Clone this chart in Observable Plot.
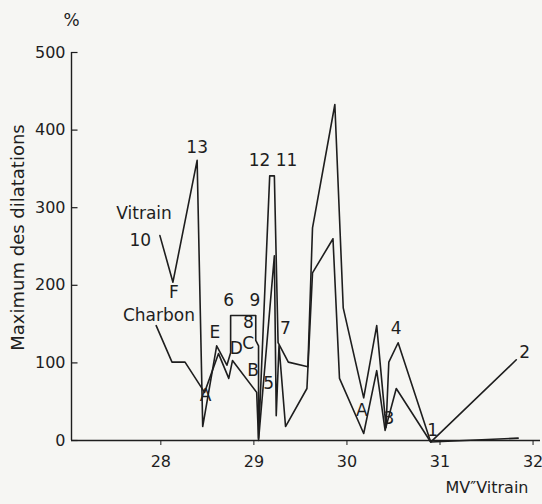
<!DOCTYPE html>
<html>
<head>
<meta charset="utf-8">
<script src="https://cdn.jsdelivr.net/npm/d3@7"></script>
<script src="https://cdn.jsdelivr.net/npm/@observablehq/plot@0.6"></script>
<style>
  html, body { margin: 0; padding: 0; background: #f6f6f3; }
  #chart { width: 542px; height: 504px; }
</style>
</head>
<body>
<div id="chart"></div>
<script>
// Vitrain series (MV vitrain, maximum des dilatations %)
const vitrainX = [27.99, 28.13, 28.39, 28.45, 28.60, 28.71, 28.75, 28.75, 29.02, 29.02, 29.05, 29.05, 29.17, 29.22, 29.26, 29.37, 29.58, 29.63, 29.87, 29.96, 30.18, 30.32, 30.42, 30.45, 30.55, 30.90, 31.82];
const vitrainY = [264, 204, 361, 18, 122, 97, 113, 161, 161, 129, 122, 3, 341, 341, 126, 101, 95, 274, 433, 171, 55, 148, 17, 101, 126, -2, 104];

// Charbon series
const charbonX = [27.95, 28.12, 28.26, 28.47, 28.62, 28.73, 28.77, 29.03, 29.05, 29.22, 29.24, 29.27, 29.34, 29.57, 29.63, 29.85, 29.92, 30.18, 30.32, 30.41, 30.53, 30.90, 31.84];
const charbonY = [148, 101, 101, 62, 112, 80, 103, 62, 0, 238, 32, 122, 18, 67, 216, 260, 80, 9, 90, 13, 67, -2, 3];

// Point annotations
const labelText = ["13", "12", "11", "Vitrain", "10", "F", "Charbon", "6", "9", "8", "E", "D", "C", "B", "7", "5", "A", "A", "4", "3", "1", "2"];
const labelX = [28.39, 29.06, 29.35, 27.82, 27.78, 28.14, 27.98, 28.73, 29.01, 28.94, 28.58, 28.81, 28.94, 28.99, 29.34, 29.16, 28.48, 30.16, 30.53, 30.45, 30.92, 31.91];
const labelY = [378, 361, 361, 293, 258, 191, 161, 180, 180, 152, 139, 119, 125, 90, 144, 73, 58, 39, 144, 28, 13, 113];

// Axis ticks
const xTicks = [28, 29, 30, 31, 32];
const yTicks = [0, 100, 200, 300, 400, 500];
const xDomain = [27.04, 32.08];
const yDomain = [0, 500];

const vitrain = vitrainX.map((x, i) => ({x, y: vitrainY[i]}));
const charbon = charbonX.map((x, i) => ({x, y: charbonY[i]}));
const labels = labelText.map((t, i) => ({t, x: labelX[i], y: labelY[i]}));

const ink = "#1e1e1e";

const chart = Plot.plot({
  width: 542,
  height: 504,
  marginLeft: 71,
  marginRight: 2,
  marginTop: 52,
  marginBottom: 64,
  x: {domain: xDomain},
  y: {domain: yDomain},
  style: {background: "#f6f6f3", fontFamily: "'DejaVu Sans', sans-serif", fontSize: "16px", color: ink},
  marks: [
    Plot.ruleX([xDomain[0]], {y1: yDomain[0], y2: yDomain[1], stroke: ink, strokeWidth: 1.4}),
    Plot.ruleY([0], {x1: xDomain[0], x2: xDomain[1], stroke: ink, strokeWidth: 1.4}),
    Plot.ruleY(yTicks, {x1: xDomain[0], x2: xDomain[0] + 0.07, stroke: ink, strokeWidth: 1.2}),
    Plot.axisX({ticks: xTicks, tickFormat: d => String(d), tickSize: 5, tickPadding: 10, label: null, fontSize: 16, stroke: ink}),
    Plot.axisY({ticks: yTicks, tickFormat: d => String(d), tickSize: 0, tickPadding: 6, label: null, fontSize: 16}),
    Plot.line(vitrain, {x: "x", y: "y", stroke: ink, strokeWidth: 1.6}),
    Plot.line(charbon, {x: "x", y: "y", stroke: ink, strokeWidth: 1.6}),
    Plot.text(labels, {x: "x", y: "y", text: "t", fontSize: 17, fill: ink}),
    Plot.text(["%"], {frameAnchor: "top-left", textAnchor: "middle", dx: 0, dy: -39, fontSize: 17, fill: ink}),
    Plot.text(["Maximum des dilatations"], {frameAnchor: "left", textAnchor: "middle", rotate: -90, dx: -53, dy: -9, fontSize: 18, fill: ink}),
    Plot.text(["MV\u2033Vitrain"], {frameAnchor: "bottom-right", textAnchor: "end", dx: -12, dy: 52, fontSize: 16, fill: ink})
  ]
});
document.getElementById("chart").appendChild(chart);
</script>
</body>
</html>
